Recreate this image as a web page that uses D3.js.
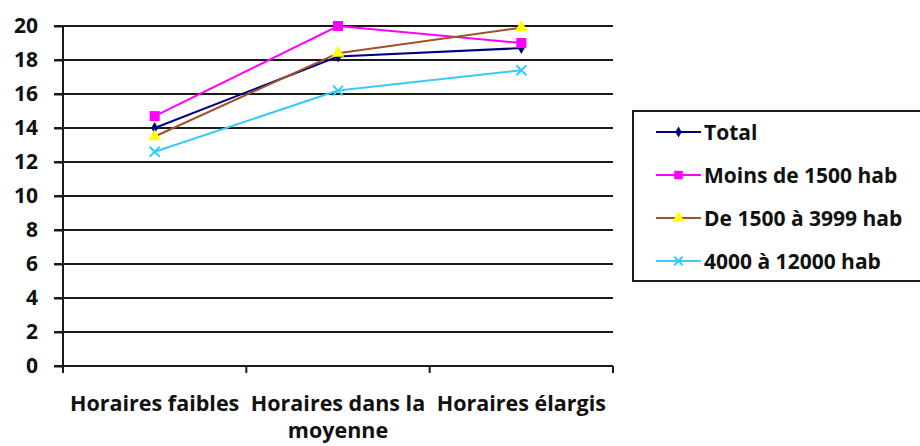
<!DOCTYPE html>
<html><head><meta charset="utf-8">
<script src="https://cdn.jsdelivr.net/npm/d3@7"></script>
<style>body{margin:0;background:#fff}svg{display:block}text{font-family:"Open Sans",Lato,sans-serif;font-weight:bold;fill:#111}</style>
</head><body>
<svg id="c" width="920" height="446"></svg>
<script>
const categories = ["Horaires faibles", "Horaires dans la moyenne", "Horaires élargis"];
const categoryLines = [["Horaires faibles"], ["Horaires dans la", "moyenne"], ["Horaires élargis"]];
const seriesNames = ["Total", "Moins de 1500 hab", "De 1500 à 3999 hab", "4000 à 12000 hab"];
const total = [14.0, 18.2, 18.7];
const moins1500 = [14.7, 20.0, 19.0];
const de1500a3999 = [13.5, 18.4, 19.9];
const de4000a12000 = [12.6, 16.2, 17.4];
const yTicks = [0, 2, 4, 6, 8, 10, 12, 14, 16, 18, 20];

const series = [
  {name: seriesNames[0], values: total, line: "#000080", fill: "#000080", marker: "diamond"},
  {name: seriesNames[1], values: moins1500, line: "#FF00FF", fill: "#FF00FF", marker: "square"},
  {name: seriesNames[2], values: de1500a3999, line: "#A0522D", fill: "#FFFF00", marker: "triangle"},
  {name: seriesNames[3], values: de4000a12000, line: "#33CCFF", fill: "#33CCFF", marker: "cross"}
];

const svg = d3.select("#c");
const x = d3.scaleBand().domain(categories).range([63, 613]);
const y = d3.scaleLinear().domain([0, 20]).range([366, 26]);

svg.append("g").selectAll("line").data(yTicks.filter(d => d > 0)).join("line")
  .attr("x1", 54).attr("x2", 613).attr("y1", d => y(d)).attr("y2", d => y(d))
  .attr("stroke", "#1a1a1a").attr("stroke-width", 2);

const ya = svg.append("g").attr("transform", "translate(63,0)")
  .call(d3.axisLeft(y).tickValues(yTicks).tickSize(9).tickPadding(16));
ya.select(".domain").attr("stroke", "#1a1a1a").attr("stroke-width", 2).attr("d", "M0,26V366");
ya.selectAll(".tick line").attr("stroke", "#1a1a1a").attr("stroke-width", 2);
ya.selectAll(".tick text").style("font-size", "21px").style("font-family", "'Open Sans'").style("font-weight", "bold").attr("fill", "#111");

const xa = svg.append("g").attr("transform", "translate(0,366)");
xa.append("line").attr("x1", 54).attr("x2", 613).attr("y1", 0).attr("y2", 0)
  .attr("stroke", "#1a1a1a").attr("stroke-width", 2);
const edges = categories.map(c => x(c)).concat([x.range()[1]]);
xa.selectAll("line.tk").data(edges).join("line").attr("class", "tk")
  .attr("x1", d => d).attr("x2", d => d).attr("y1", 0).attr("y2", 7)
  .attr("stroke", "#1a1a1a").attr("stroke-width", 2);
categories.forEach((c, i) => {
  const t = xa.append("text").attr("text-anchor", "middle").style("font-size", "21.5px")
    .attr("x", x(c) + x.bandwidth() / 2).attr("y", 45);
  categoryLines[i].forEach((ln, j) => {
    t.append("tspan").attr("x", x(c) + x.bandwidth() / 2).attr("dy", j === 0 ? 0 : 27).text(ln);
  });
});

function drawMarker(g, s, cx, cy, scale) {
  const k = scale || 1;
  if (s.marker === "diamond") {
    g.append("path").attr("d", d3.symbol().type(d3.symbolDiamond).size(40 * k)).attr("transform", `translate(${cx},${cy})`).attr("fill", s.fill);
  } else if (s.marker === "square") {
    g.append("rect").attr("x", cx - 5 * k).attr("y", cy - 5 * k).attr("width", 10 * k).attr("height", 10 * k).attr("fill", s.fill);
  } else if (s.marker === "triangle") {
    g.append("path").attr("d", d3.symbol().type(d3.symbolTriangle).size(70 * k)).attr("transform", `translate(${cx},${cy})`).attr("fill", s.fill);
  } else {
    const r = 5 * k;
    g.append("path").attr("d", `M${cx - r},${cy - r}L${cx + r},${cy + r}M${cx - r},${cy + r}L${cx + r},${cy - r}`).attr("stroke", s.fill).attr("stroke-width", 2).attr("fill", "none");
  }
}

const line = d3.line().x((d, i) => x(categories[i]) + x.bandwidth() / 2).y(d => y(d));
series.forEach(s => {
  const g = svg.append("g");
  g.append("path").attr("d", line(s.values)).attr("fill", "none").attr("stroke", s.line).attr("stroke-width", 2);
  s.values.forEach((v, i) => drawMarker(g, s, x(categories[i]) + x.bandwidth() / 2, y(v)));
});

const lg = svg.append("g");
lg.append("rect").attr("x", 633).attr("y", 111).attr("width", 300).attr("height", 170)
  .attr("fill", "#fff").attr("stroke", "#1a1a1a").attr("stroke-width", 2);
const ly = d3.scalePoint().domain(seriesNames).range([132, 261]);
series.forEach(s => {
  const yy = ly(s.name);
  lg.append("line").attr("x1", 656).attr("x2", 701).attr("y1", yy).attr("y2", yy).attr("stroke", s.line).attr("stroke-width", 2);
  drawMarker(lg, s, 678.5, yy, 0.85);
  lg.append("text").attr("x", 704).attr("y", yy).attr("dy", "0.36em").style("font-size", "21px").text(s.name);
});
</script>
</body></html>
